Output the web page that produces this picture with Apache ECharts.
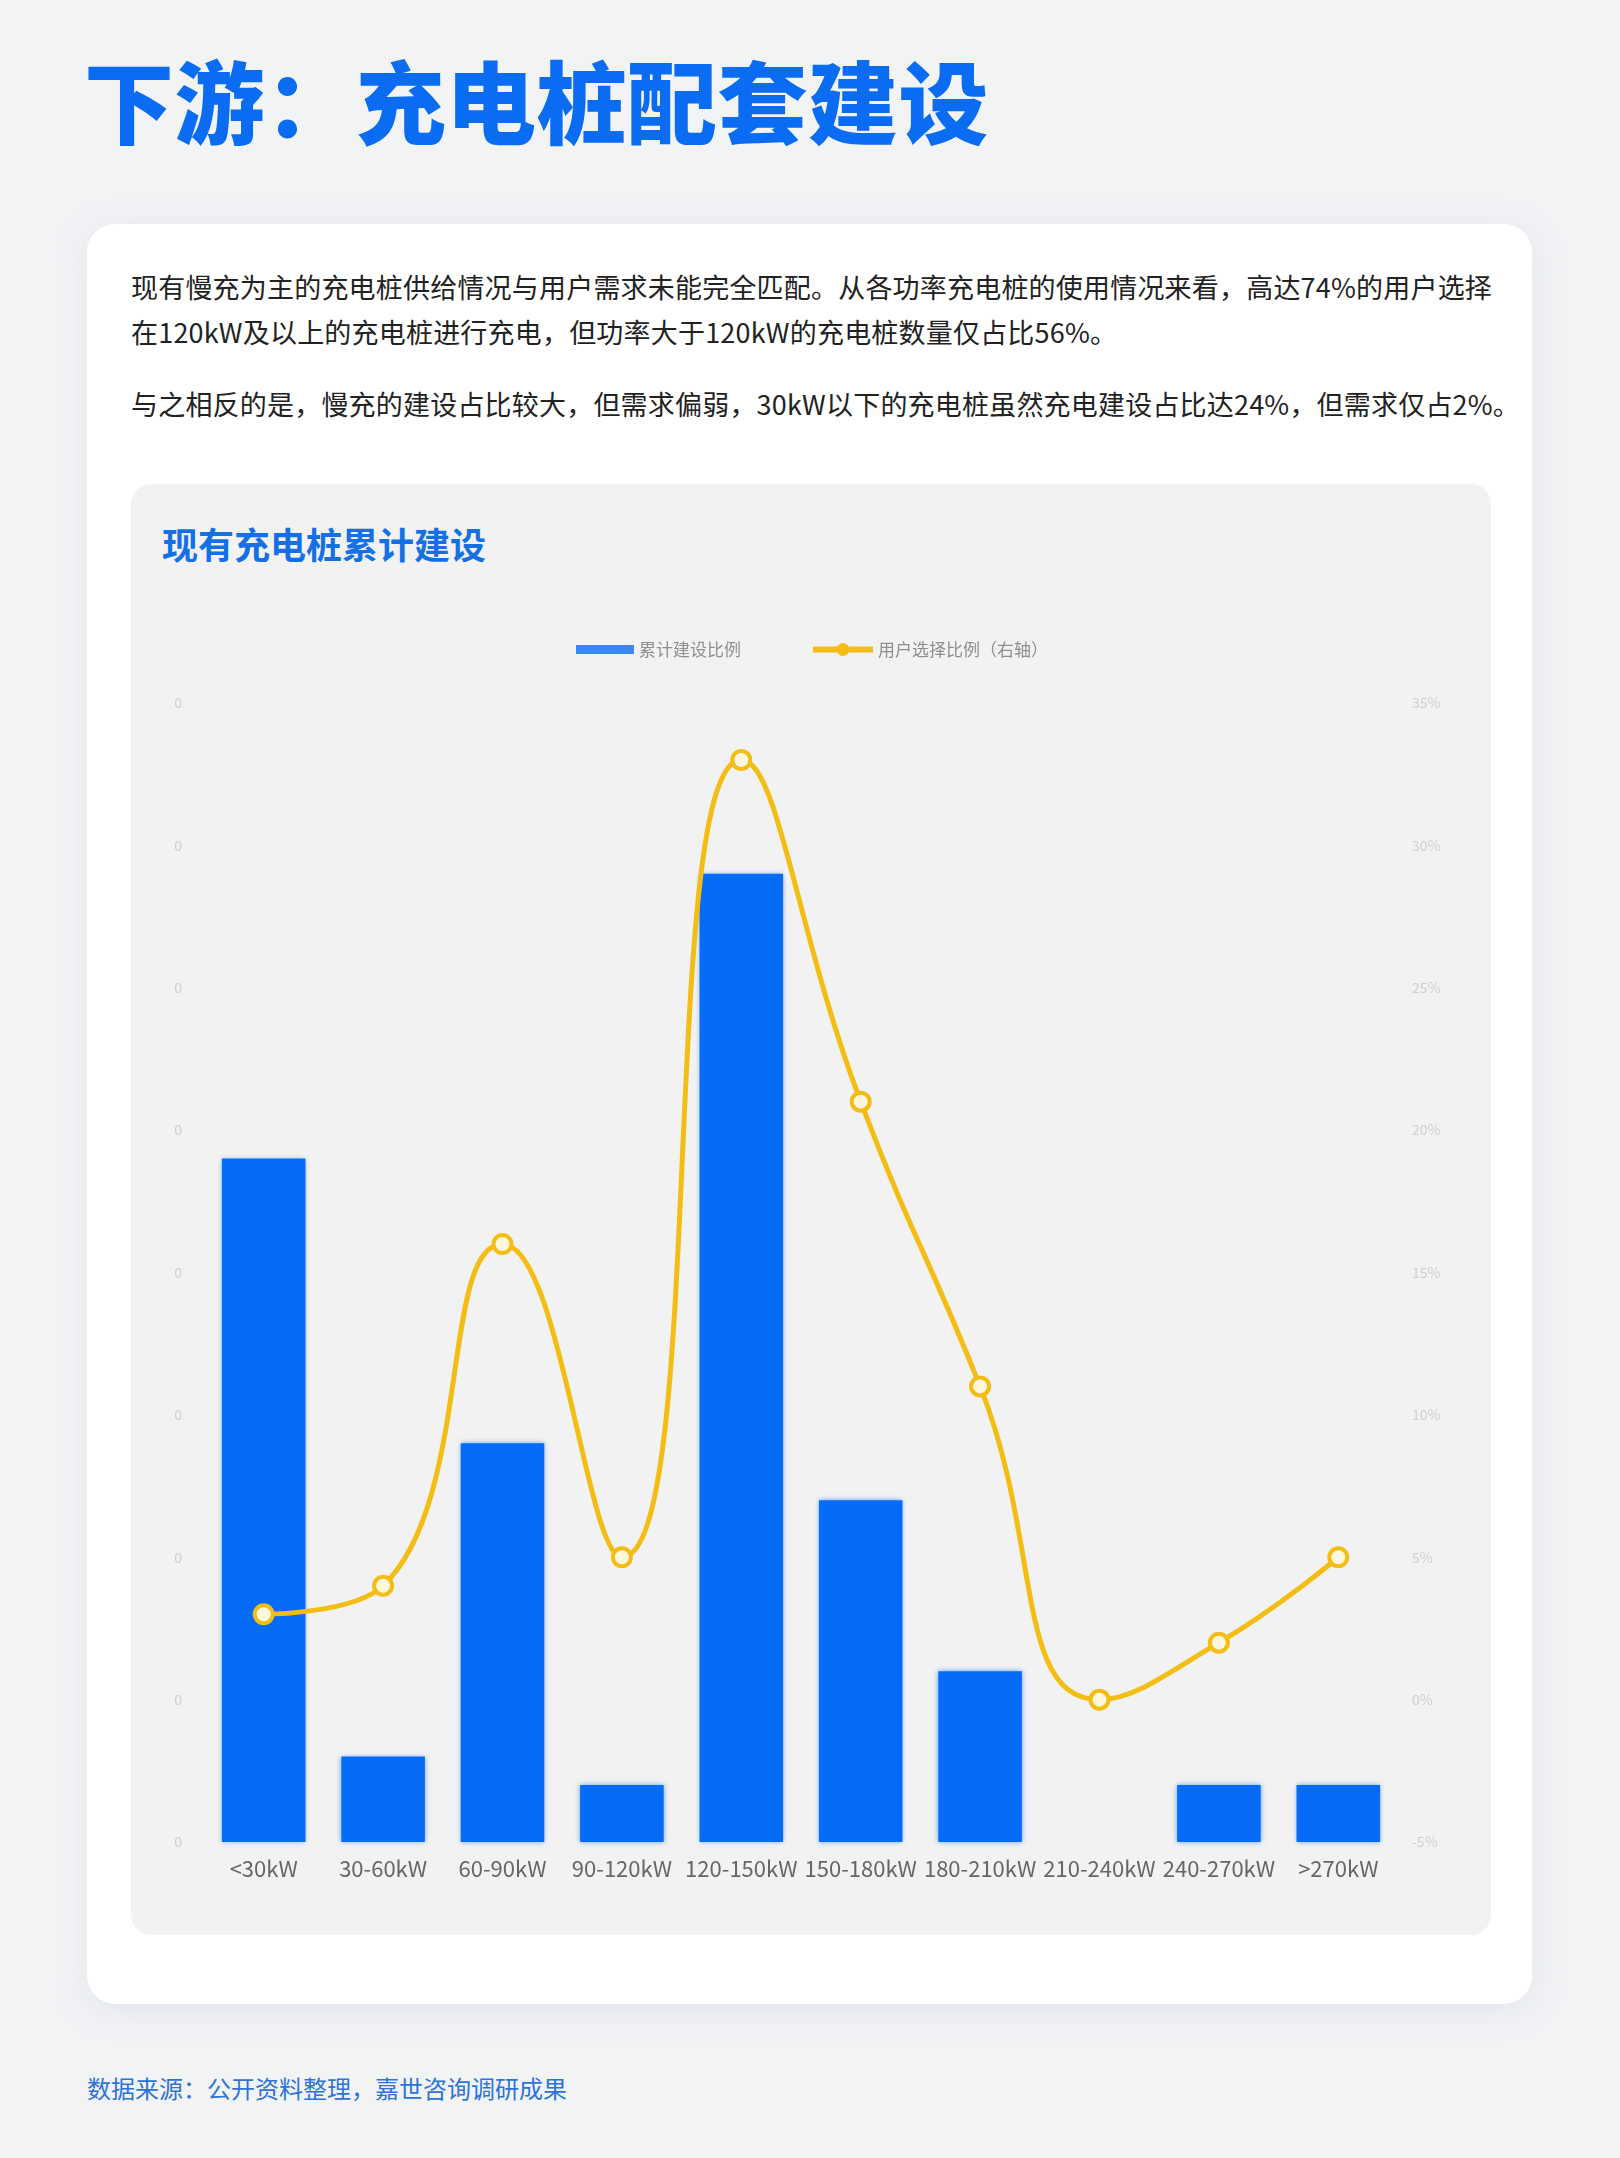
<!DOCTYPE html>
<html>
<head>
<meta charset="utf-8">
<script src="https://cdn.jsdelivr.net/npm/echarts@6/dist/echarts.min.js"></script>
<style>
  html, body { margin: 0; padding: 0; }
  body { width: 1620px; height: 2158px; background: #f2f3f5; position: relative; overflow: hidden;
         font-family: "Noto Sans CJK SC", "Noto Sans", sans-serif; }
  #title { position: absolute; left: 84px; top: 38px; margin: 0; font-size: 90px; font-weight: 900;
           color: #0a6cf2; letter-spacing: 0.5px; line-height: 120px; white-space: nowrap; }
  #card { position: absolute; left: 87px; top: 224px; width: 1445px; height: 1780px; background: #ffffff;
          border-radius: 28px; box-shadow: 0 6px 30px rgba(180,190,210,0.25); }
  .para { position: absolute; left: 131px; width: 1400px; margin: 0; font-size: 27px; color: #222;
          line-height: 45px; white-space: nowrap; letter-spacing: 0.2px; }
  #p1 { top: 264px; }
  #p2 { top: 381px; }
  #inner { position: absolute; left: 131px; top: 484px; width: 1360px; height: 1451px; background: #f2f2f2;
           border-radius: 20px; }
  #ctitle { position: absolute; left: 162px; top: 519px; margin: 0; font-size: 36px; font-weight: 700;
            color: #1570e6; line-height: 48px; white-space: nowrap; }
  #source { position: absolute; left: 87px; top: 2072px; margin: 0; font-size: 24px; color: #2d74d9;
            line-height: 32px; white-space: nowrap; }
  #chart { position: absolute; left: 0; top: 0; width: 1620px; height: 2158px; }
</style>
</head>
<body>
<div id="title">下游：充电桩配套建设</div>
<div id="card"></div>
<p class="para" id="p1">现有慢充为主的充电桩供给情况与用户需求未能完全匹配。从各功率充电桩的使用情况来看，高达74%的用户选择<br>在120kW及以上的充电桩进行充电，但功率大于120kW的充电桩数量仅占比56%。</p>
<p class="para" id="p2">与之相反的是，慢充的建设占比较大，但需求偏弱，30kW以下的充电桩虽然充电建设占比达24%，但需求仅占2%。</p>
<div id="inner"></div>
<div id="ctitle">现有充电桩累计建设</div>
<div id="source">数据来源：公开资料整理，嘉世咨询调研成果</div>
<div id="chart"></div>
<script>
const categories = ['<30kW', '30-60kW', '60-90kW', '90-120kW', '120-150kW', '150-180kW', '180-210kW', '210-240kW', '240-270kW', '>270kW'];
const buildShare = [0.24, 0.03, 0.14, 0.02, 0.34, 0.12, 0.06, 0, 0.02, 0.02];
const userShare = [3, 4, 16, 5, 33, 21, 11, 0, 2, 5];
const seriesNames = ['累计建设比例', '用户选择比例（右轴）'];

const chart = echarts.init(document.getElementById('chart'), null, { renderer: 'canvas' });
chart.setOption({
  backgroundColor: 'transparent',
  animation: false,
  textStyle: { fontFamily: '"Noto Sans CJK SC", "Noto Sans", sans-serif' },
  legend: [
    {
      left: 571,
      top: 636,
      itemWidth: 58,
      itemHeight: 9,
      itemGap: 7,
      textStyle: { color: '#8f8f8f', fontSize: 17 },
      data: [{ name: seriesNames[0], icon: 'rect', itemStyle: { color: '#3b88f2' } }]
    },
    {
      left: 805,
      top: 636,
      itemWidth: 60,
      itemHeight: 16,
      textStyle: { color: '#8f8f8f', fontSize: 17 },
      data: [{ name: seriesNames[1], lineStyle: { width: 6, color: '#f3bd14' }, itemStyle: { color: '#f3bd14', borderWidth: 0 } }]
    }
  ],
  grid: { left: 204, right: 222, top: 703, bottom: 316, containLabel: false },
  xAxis: {
    type: 'category',
    data: categories,
    axisLine: { show: false },
    axisTick: { show: false },
    axisLabel: { color: '#666', fontSize: 22, margin: 16, interval: 0 }
  },
  yAxis: [
    {
      type: 'value', min: 0, max: 0.4, interval: 0.05,
      axisLine: { show: false }, axisTick: { show: false }, splitLine: { show: false },
      axisLabel: { color: '#cfcfcf', fontSize: 14, margin: 22, formatter: v => v.toFixed(0) }
    },
    {
      type: 'value', min: -5, max: 35, interval: 5,
      axisLine: { show: false }, axisTick: { show: false }, splitLine: { show: false },
      axisLabel: { color: '#cfcfcf', fontSize: 14, margin: 14, formatter: '{value}%' }
    }
  ],
  series: [
    {
      name: seriesNames[0],
      type: 'bar',
      yAxisIndex: 0,
      data: buildShare,
      barWidth: '70%',
      itemStyle: { color: '#066cf8', shadowBlur: 5, shadowColor: 'rgba(6,108,248,0.6)' }
    },
    {
      name: seriesNames[1],
      type: 'line',
      yAxisIndex: 1,
      data: userShare,
      smooth: true,
      symbol: 'circle',
      symbolSize: 18,
      lineStyle: { color: '#f3bd14', width: 5 },
      itemStyle: { color: '#fff7dc', borderColor: '#f3bd14', borderWidth: 4 },
      z: 3
    }
  ]
});
</script>
</body>
</html>
